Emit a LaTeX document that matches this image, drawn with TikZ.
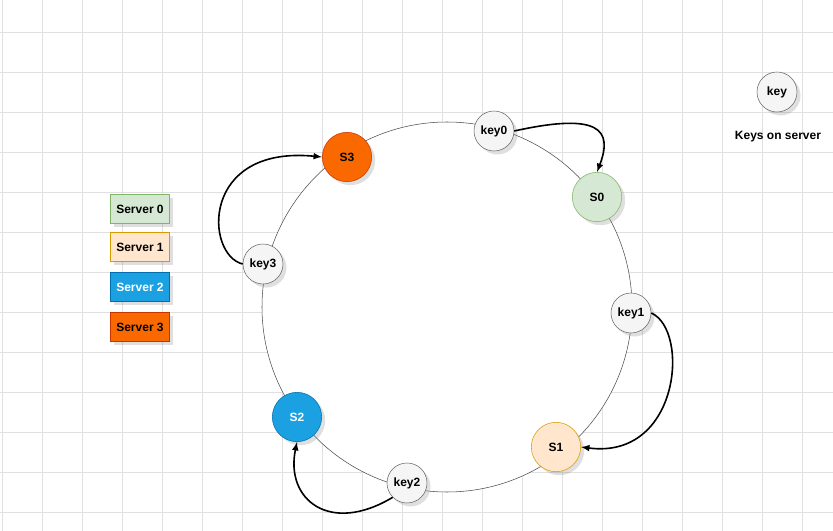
\documentclass[tikz,border=0pt]{standalone}
\usepackage{fontspec}
\setmainfont{Liberation Sans}
\usetikzlibrary{positioning,shadows}
\definecolor{gfill}{HTML}{D5E8D4}\definecolor{gline}{HTML}{82B366}
\definecolor{ofill}{HTML}{FFE6CC}\definecolor{oline}{HTML}{D79B00}
\definecolor{bfill}{HTML}{1BA1E2}\definecolor{bline}{HTML}{006EAF}
\definecolor{rfill}{HTML}{FA6800}\definecolor{rline}{HTML}{C73500}
\definecolor{kfill}{HTML}{F5F5F5}\definecolor{kline}{HTML}{666666}
\tikzset{
  lbl/.style = {font=\bfseries\fontsize{9}{10}\selectfont},
  keynode/.style = {circle, draw=kline, fill=kfill, minimum size=30pt, inner sep=0pt, lbl, drop shadow={opacity=0.25}},
  srv/.style = {circle, minimum size=37pt, inner sep=0pt, lbl, drop shadow={opacity=0.25}},
  legendbox/.style = {rectangle, minimum width=44pt, minimum height=22pt, inner sep=0pt, lbl, drop shadow={opacity=0.25}},
  hop/.style = {-latex, line width=1.2pt}
}
\begin{document}
\begin{tikzpicture}[x=0.75pt, y=-0.75pt]
\useasboundingbox (0,0) rectangle (833,531);
\fill[white] (0,0) rectangle (833,531);
\foreach \i in {0,...,20} \draw[black!12] (2.7+40*\i,0) -- (2.7+40*\i,531);
\foreach \j in {0,...,12} \draw[black!12] (0,32.5+40*\j) -- (833,32.5+40*\j);
% ring
\draw[black!70, fill=white] (447,307) circle (185);
% keys
\node[keynode] (key0) at (494,131) {key0};
\node[keynode] (key1) at (631,313) {key1};
\node[keynode] (key2) at (407,483) {key2};
\node[keynode] (key3) at (263,264) {key3};
% servers
\node[srv, draw=gline, fill=gfill] (S0) at (597,197) {S0};
\node[srv, draw=oline, fill=ofill] (S1) at (556,447) {S1};
\node[srv, draw=bline, fill=bfill, text=white] (S2) at (297,417) {S2};
\node[srv, draw=rline, fill=rfill] (S3) at (347,157) {S3};
% legend
\node[legendbox, draw=gline, fill=gfill] (L0) at (140,209) {Server 0};
\node[legendbox, draw=oline, fill=ofill] (L1) at (140,247) {Server 1};
\node[legendbox, draw=bline, fill=bfill, text=white] (L2) at (140,287) {Server 2};
\node[legendbox, draw=rline, fill=rfill] (L3) at (140,327) {Server 3};
\node[keynode] (legkey) at (777,92) {key};
\node[lbl] (legtxt) at (778,137) {Keys on server};
% hops
\draw[hop] (key0.east) .. controls (600,112) and (613,130) .. (S0.north);
\draw[hop] (key1.east) .. controls (690,330) and (680,460) .. (S1.east);
\draw[hop] (key2.south west) .. controls (330,535) and (285,500) .. (S2.south);
\draw[hop] (key3.west) .. controls (205,255) and (200,145) .. (S3.west);
\end{tikzpicture}
\end{document}
